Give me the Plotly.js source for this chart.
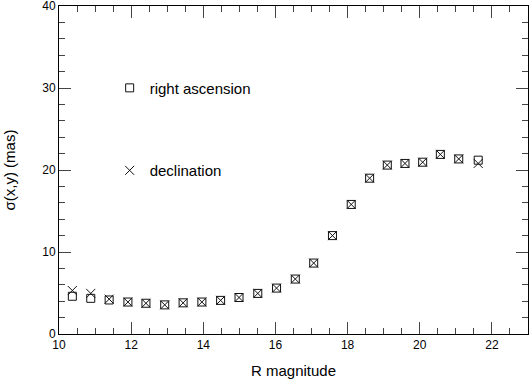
<!DOCTYPE html>
<html>
<head>
<meta charset="utf-8">
<script src="https://cdn.plot.ly/plotly-3.0.1.min.js"></script>
<style>
  html, body { margin: 0; padding: 0; background: #fff; }
  #chart { width: 529px; height: 379px; }
</style>
</head>
<body>
<div id="chart"></div>
<script>
// R magnitude bins
const rmag = [10.37, 10.88, 11.39, 11.91, 12.41, 12.93, 13.44, 13.96, 14.48, 14.99,
  15.51, 16.03, 16.55, 17.06, 17.58, 18.10, 18.61, 19.10, 19.59, 20.08,
  20.57, 21.08, 21.62];

// sigma in right ascension (mas)
const sigmaRA = [4.6, 4.35, 4.15, 3.9, 3.75, 3.55, 3.8, 3.9, 4.1, 4.45,
  4.95, 5.6, 6.7, 8.65, 12.0, 15.8, 19.0, 20.6, 20.8, 20.95,
  21.9, 21.35, 21.2];

// sigma in declination (mas)
const sigmaDec = [5.3, 4.95, 4.25, 3.9, 3.75, 3.55, 3.8, 3.9, 4.1, 4.45,
  4.95, 5.6, 6.7, 8.65, 12.0, 15.8, 19.0, 20.6, 20.8, 20.95,
  21.9, 21.35, 20.8];

const ra = {
  x: rmag,
  y: sigmaRA,
  mode: 'markers',
  name: 'right ascension',
  legendgroup: 'ra',
  marker: { symbol: 'square-open', size: 8, color: '#111', line: { width: 1, color: '#111' } }
};

const dec = {
  x: rmag,
  y: sigmaDec,
  mode: 'markers',
  name: 'declination',
  legendgroup: 'dec',
  marker: { symbol: 'x-thin-open', size: 9, color: '#111', line: { width: 1, color: '#111' } }
};

const font = { family: 'Liberation Sans, Arial, sans-serif', color: '#000' };

const layout = {
  width: 529,
  height: 379,
  margin: { l: 59, r: 1, t: 6, b: 45 },
  paper_bgcolor: '#fff',
  plot_bgcolor: '#fff',
  font: font,
  showlegend: true,
  legend: {
    x: 0.108, y: 0.80, xanchor: 'left', yanchor: 'top',
    bgcolor: 'rgba(0,0,0,0)',
    tracegroupgap: 60,
    font: { size: 15, family: font.family, color: '#000' }
  },
  xaxis: {
    range: [10, 23],
    dtick: 2,
    ticks: 'inside',
    ticklen: 12,
    tickcolor: '#444',
    showline: true,
    linecolor: '#000',
    linewidth: 1,
    mirror: 'ticks',
    showgrid: false,
    zeroline: false,
    tickfont: { size: 12 },
    ticklabeloverflow: 'allow',
    minor: { dtick: 0.5, ticks: 'inside', ticklen: 6, tickcolor: '#444', showgrid: false },
    title: { text: 'R magnitude', font: { size: 15 }, standoff: 14 }
  },
  yaxis: {
    range: [0, 40],
    tickvals: [0, 10, 20, 30, 40],
    ticks: 'inside',
    ticklen: 12,
    tickcolor: '#444',
    showline: true,
    linecolor: '#000',
    linewidth: 1,
    mirror: 'ticks',
    showgrid: false,
    zeroline: false,
    tickfont: { size: 12 },
    ticklabeloverflow: 'allow',
    minor: { dtick: 2, ticks: 'inside', ticklen: 6, tickcolor: '#444', showgrid: false },
    title: { text: 'σ(x,y) (mas)', font: { size: 15 }, standoff: 22 }
  }
};

Plotly.newPlot('chart', [ra, dec], layout, { displayModeBar: false, staticPlot: true });
</script>
</body>
</html>
